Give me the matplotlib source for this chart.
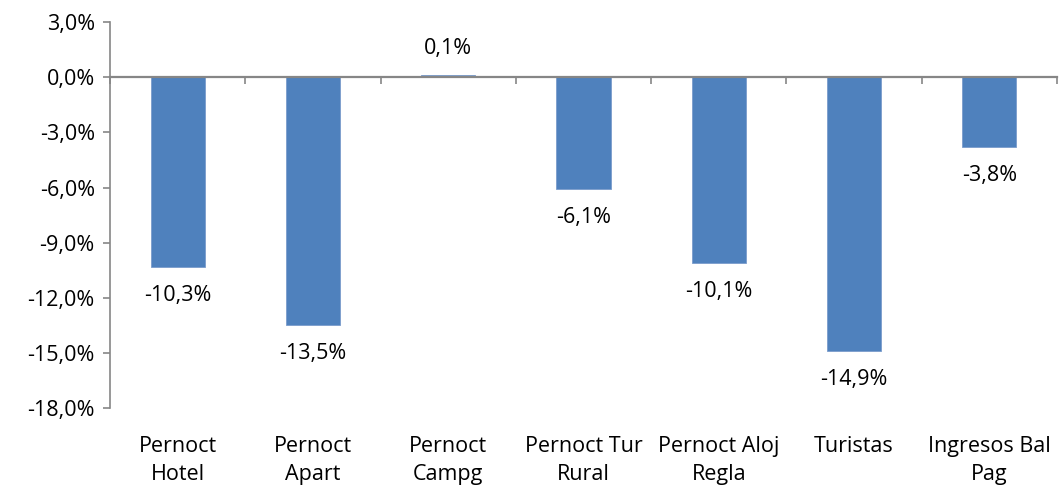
import matplotlib

matplotlib.use("Agg")
import matplotlib.pyplot as plt
import numpy as np
from matplotlib.ticker import FuncFormatter, FixedLocator

plt.rcParams["font.family"] = ["Open Sans", "DejaVu Sans"]

categories = ["Pernoct\nHotel", "Pernoct\nApart", "Pernoct\nCampg", "Pernoct Tur\nRural",
              "Pernoct Aloj\nRegla", "Turistas", "Ingresos Bal\nPag"]
values = [-10.3, -13.5, 0.1, -6.1, -10.1, -14.9, -3.8]
y_ticks = [-18, -15, -12, -9, -6, -3, 0, 3]

bar_color = "#4F81BD"
axis_color = "#868686"
font_size = 15.5

fig = plt.figure(figsize=(10.59, 4.9), dpi=100)
ax = fig.add_axes([0.104, 0.167, 0.894, 0.788])

x = np.arange(len(categories))
ax.bar(x, values, width=0.4, color=bar_color, edgecolor="#7a9ccc", linewidth=0.6, zorder=2)

for xi, v in zip(x, values):
    label = f"{v:.1f}%".replace(".", ",")
    if v >= 0:
        ax.annotate(label, (xi, v), xytext=(0, 12), textcoords="offset points",
                    ha="center", va="bottom", fontsize=font_size)
    else:
        ax.annotate(label, (xi, v), xytext=(0, -13), textcoords="offset points",
                    ha="center", va="top", fontsize=font_size)

ax.set_xlim(-0.5, len(categories) - 0.5)
ax.set_ylim(-18, 3)
ax.set_yticks(y_ticks)
ax.yaxis.set_major_formatter(FuncFormatter(lambda v, p: f"{v:.1f}%".replace(".", ",")))
ax.tick_params(axis="y", direction="out", length=5, width=1.2, color=axis_color,
               labelsize=font_size, pad=6)

# category axis sits on the zero line
for s in ["top", "right"]:
    ax.spines[s].set_visible(False)
ax.spines["left"].set_color(axis_color)
ax.spines["left"].set_linewidth(1.2)
ax.spines["bottom"].set_position(("data", 0))
ax.spines["bottom"].set_color(axis_color)
ax.spines["bottom"].set_linewidth(1.6)
ax.spines["bottom"].set_zorder(3)
ax.xaxis.set_major_locator(FixedLocator(np.arange(len(categories) + 1) - 0.5))
ax.xaxis.set_major_formatter(FuncFormatter(lambda v, p: ""))
ax.tick_params(axis="x", direction="out", length=5, width=1.2, color=axis_color)

sec = ax.secondary_xaxis(location=0)
sec.set_xticks(x)
sec.set_xticklabels(categories, fontsize=font_size, linespacing=1.45)
sec.tick_params(axis="x", length=0, pad=20)
sec.spines["bottom"].set_visible(False)

fig.savefig("out.png", dpi=100)
